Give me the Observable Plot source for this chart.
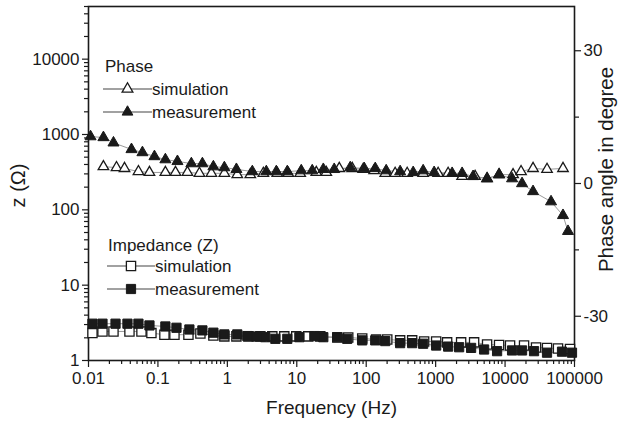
<!DOCTYPE html>
<html><head><meta charset="utf-8">
<script src="https://cdn.jsdelivr.net/npm/d3@7"></script>
<script src="https://cdn.jsdelivr.net/npm/@observablehq/plot@0.6"></script>
<style>
body{margin:0;background:#fff;}
#chart{width:628px;height:424px;}
</style></head><body><div id="chart"></div>
<script>
// ---- Data ----
const phaseMeasFreq = [0.0107,0.0164,0.0229,0.0416,0.0598,0.0891,0.128,0.191,0.303,0.437,0.629,0.905,1.35,2.29,3.64,5.07,7.30,11.6,16.7,24.1,34.6,58.9,93.6,135,194,308,475,661,951,1728,2406,3464,5508,8199,12610,17560,25290,45920,68300,80620];
const phaseMeasDeg = [10.6,10.4,9.2,7.7,7.0,6.1,5.4,5.0,4.5,4.5,3.8,3.6,3.2,2.7,2.7,2.7,2.7,2.9,2.9,3.2,3.2,3.6,3.4,3.4,2.9,2.7,2.5,2.9,2.5,2.3,2.3,1.6,1.1,2.0,1.1,0,-1.8,-4.1,-7.2,-10.8];
const phaseSimFreq = [0.0164,0.0253,0.0330,0.0524,0.0755,0.128,0.179,0.266,0.396,0.589,0.905,1.39,2.14,3.30,5.24,7.55,11.2,19.1,26.6,40.9,62.9,90.5,130,188,261,389,661,1086,1513,2406,3702,5508,8199,13030,16990,25290,40210,68300];
const phaseSimDeg = [3.8,3.6,3.4,2.7,2.5,2.5,2.5,2.5,2.3,2.3,2.3,2.0,2.0,2.3,2.3,2.3,2.3,2.5,2.5,3.4,3.4,3.2,2.9,2.3,2.3,2.3,2.3,2.3,2.3,1.6,1.6,1.1,2.0,2.0,2.7,3.4,3.2,3.4];
const zMeasFreq = [0.0114,0.0159,0.0245,0.0364,0.0524,0.0755,0.128,0.185,0.284,0.437,0.629,0.905,1.39,1.94,2.61,3.52,4.91,7.30,10.9,17.9,24.1,38.3,53.3,87.6,135,188,308,459,661,1017,1513,2179,3242,4988,7674,12610,17560,26140,40210,66100,92040];
const zMeasOhm = [3.08,3.08,3.08,3.08,3.08,2.92,2.83,2.72,2.58,2.51,2.34,2.22,2.22,2.11,2.08,2.04,1.94,1.94,2.04,2.11,2.04,2.04,1.94,1.85,1.85,1.81,1.70,1.70,1.67,1.58,1.53,1.50,1.47,1.40,1.33,1.36,1.36,1.33,1.27,1.31,1.27];
const zSimFreq = [0.0114,0.0159,0.0229,0.0389,0.0579,0.0806,0.124,0.173,0.275,0.409,0.629,0.905,1.35,2.01,2.99,4.44,6.61,9.83,14.6,21.8,38.3,55.1,87.6,139,201,308,459,683,1017,1464,2328,3581,5508,8199,11800,18770,27930,40210,57900,86150];
const zSimOhm = [2.31,2.43,2.43,2.43,2.43,2.31,2.20,2.20,2.20,2.28,2.15,2.09,2.09,2.09,2.09,2.09,2.09,2.09,2.09,2.09,2.02,2.02,1.96,1.90,1.90,1.85,1.85,1.79,1.79,1.74,1.74,1.74,1.63,1.61,1.58,1.58,1.49,1.47,1.44,1.42];

const xTicks = [0.01,0.1,1,10,100,1000,10000,100000];
const xTickLabels = ["0.01","0.1","1","10","100","1000","10000","100000"];
const zTicks = [1,10,100,1000,10000];
const zTickLabels = ["1","10","100","1000","10000"];
const phaseTicks = [-30,0,30];
const phaseTickLabels = ["-30","0","30"];
const phaseMinorTicks = [-15,15];
const zDomain = [1,50000];
const phaseDomain = [-40,40];

// ---- Mapping phase onto the shared (log) y scale ----
const lz = Math.log10(zDomain[1]);
const phToZ = p => Math.pow(10, (p - phaseDomain[0]) / (phaseDomain[1] - phaseDomain[0]) * lz);

const phaseMeas = phaseMeasFreq.map((f,i)=>({f, v: phToZ(phaseMeasDeg[i])}));
const phaseSim = phaseSimFreq.map((f,i)=>({f, v: phToZ(phaseSimDeg[i])}));
const zMeas = zMeasFreq.map((f,i)=>({f, v: zMeasOhm[i]}));
const zSim = zSimFreq.map((f,i)=>({f, v: zSimOhm[i]}));
const phaseTickRows = phaseTicks.map((t,i)=>({v: phToZ(t), label: phaseTickLabels[i]}));

const xMinor = [], zMinor = [];
for (let e=-2; e<5; e++) for (let k=2;k<10;k++) xMinor.push(k*Math.pow(10,e));
for (let e=0; e<5; e++) for (let k=2;k<10;k++) { const v=k*Math.pow(10,e); if (v<=zDomain[1]) zMinor.push(v); }
const xLab = new Map(xTicks.map((t,i)=>[t,xTickLabels[i]]));
const zLab = new Map(zTicks.map((t,i)=>[t,zTickLabels[i]]));

const font = "'Liberation Sans', Arial, Helvetica, sans-serif";
const ink = "#1a1a1a";
const connect = "#9a9a9a";

const plot = Plot.plot({
  width: 628, height: 424,
  marginLeft: 88, marginRight: 54, marginTop: 6, marginBottom: 64,
  style: {fontFamily: font, fontSize: "17px", color: ink, background: "#fff"},
  x: {type: "log", domain: [xTicks[0], xTicks[xTicks.length-1]], label: null},
  y: {type: "log", domain: zDomain, label: null},
  marks: [
    Plot.axisX(xMinor, {tickSize: 4, tickFormat: () => "", strokeWidth: 1.2, label: null}),
    Plot.axisX(xTicks, {tickSize: 7, tickPadding: 4, tickFormat: d => xLab.get(d), strokeWidth: 1.2, label: null}),
    Plot.axisY(zMinor, {tickSize: 4, tickFormat: () => "", strokeWidth: 1.2, label: null}),
    Plot.axisY(zTicks, {tickSize: 6, tickPadding: 3, tickFormat: d => zLab.get(d), strokeWidth: 1.2, label: null}),
    Plot.axisY(phaseMinorTicks.map(phToZ), {anchor: "right", tickSize: 4, tickFormat: () => "", strokeWidth: 1.2, label: null}),
    Plot.axisY(phaseTicks.map(phToZ), {anchor: "right", tickSize: 6, tickFormat: () => "", strokeWidth: 1.2, label: null}),
    Plot.text(phaseTickRows, {y: "v", text: "label", frameAnchor: "right", textAnchor: "start", dx: 9, fontSize: 17, fill: ink}),
    Plot.frame({stroke: ink, strokeWidth: 1.6}),
    Plot.line(zSim, {x: "f", y: "v", stroke: connect, strokeWidth: 1}),
    Plot.line(zMeas, {x: "f", y: "v", stroke: connect, strokeWidth: 1}),
    Plot.line(phaseSim, {x: "f", y: "v", stroke: connect, strokeWidth: 1}),
    Plot.line(phaseMeas, {x: "f", y: "v", stroke: connect, strokeWidth: 1}),
    Plot.dot(zSim, {x: "f", y: "v", symbol: "square", r: 5.2, fill: "white", stroke: ink, strokeWidth: 1.3}),
    Plot.dot(zMeas, {x: "f", y: "v", symbol: "square", r: 5.2, fill: ink, stroke: ink, strokeWidth: 1}),
    Plot.dot(phaseSim, {x: "f", y: "v", symbol: "triangle", r: 3.9, fill: "white", stroke: ink, strokeWidth: 1.3}),
    Plot.dot(phaseMeas, {x: "f", y: "v", symbol: "triangle", r: 4.1, fill: ink, stroke: ink, strokeWidth: 1}),
    Plot.text(["z (\u03A9)"], {text: d => d, frameAnchor: "left", textAnchor: "middle", dx: -70, dy: 2, rotate: -90, fontSize: 20, fill: ink}),
    Plot.text(["Phase angle in degree"], {text: d => d, frameAnchor: "right", textAnchor: "middle", dx: 32, dy: -14, rotate: -90, fontSize: 20.5, fill: ink}),
    Plot.text(["Frequency (Hz)"], {text: d => d, frameAnchor: "bottom", textAnchor: "middle", dy: 53, fontSize: 19, fill: ink})
  ]
});
document.getElementById("chart").appendChild(plot);

// ---- Legends (drawn into the same SVG) ----
const svg = d3.select(plot);
function legendBlock(title, tx, ty, rows, symType, area) {
  const g = svg.append("g").attr("font-family", font).attr("font-size", 17)
    .attr("fill", ink).attr("text-anchor", "start");
  g.append("text").attr("x", tx).attr("y", ty).attr("dy", "0.35em").text(title);
  rows.forEach(r => {
    g.append("line").attr("x1", r.x1).attr("x2", r.x2).attr("y1", r.y).attr("y2", r.y)
      .attr("stroke", "#444").attr("stroke-width", 1.2);
    g.append("path").attr("d", d3.symbol().type(symType).size(area)())
      .attr("transform", `translate(${(r.x1+r.x2)/2},${r.y})`)
      .attr("fill", r.filled ? ink : "white").attr("stroke", ink).attr("stroke-width", r.filled ? 1 : 1.3);
    g.append("text").attr("x", r.x2).attr("y", r.y).attr("dy", "0.35em").text(r.label);
  });
}
legendBlock("Phase", 105, 66, [
  {x1: 103, x2: 152, y: 89, filled: false, label: "simulation"},
  {x1: 103, x2: 152, y: 112, filled: true, label: "measurement"}
], d3.symbolTriangle, Math.PI*4.0*4.0);
legendBlock("Impedance (Z)", 108, 245, [
  {x1: 107, x2: 155, y: 266, filled: false, label: "simulation"},
  {x1: 107, x2: 155, y: 289, filled: true, label: "measurement"}
], d3.symbolSquare, Math.PI*5.2*5.2);
</script></body></html>
